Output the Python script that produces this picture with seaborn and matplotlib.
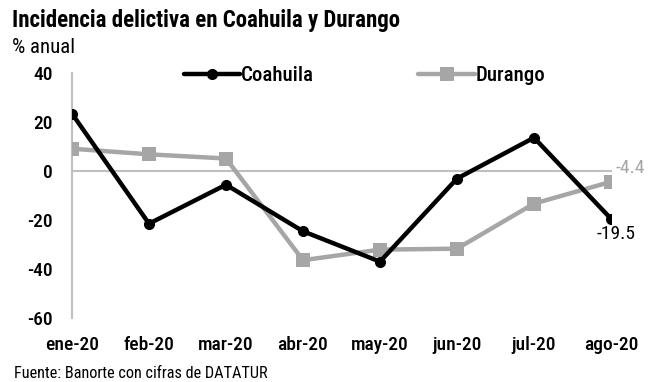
import matplotlib
matplotlib.use("Agg")
import matplotlib.pyplot as plt
from matplotlib import font_manager as fm
import seaborn as sns
import pandas as pd

months = ["ene-20", "feb-20", "mar-20", "abr-20", "may-20", "jun-20", "jul-20", "ago-20"]
coahuila = [23.4, -21.5, -5.6, -24.6, -37.0, -3.1, 13.6, -19.5]
durango = [9.1, 6.8, 5.1, -36.4, -32.1, -31.7, -13.3, -4.4]
y_ticks = [40, 20, 0, -20, -40, -60]

sns.set_theme(style="white")

# condensed sans-serif with a bold weight
installed = {f.name for f in fm.fontManager.ttflist}
narrow = next((n for n in ["Roboto Condensed", "PT Sans Narrow", "Liberation Sans Narrow"]
               if n in installed), None)
if narrow:
    plt.rcParams["font.family"] = [narrow, "DejaVu Sans"]
else:
    plt.rcParams["font.family"] = ["DejaVu Sans"]
    plt.rcParams["font.stretch"] = "condensed"
for key in ["text.color", "axes.labelcolor", "xtick.color", "ytick.color"]:
    plt.rcParams[key] = "black"

TICK_FS = 14
df = pd.DataFrame({
    "pos": list(range(len(months))) * 2,
    "valor": coahuila + durango,
    "estado": ["Coahuila"] * len(months) + ["Durango"] * len(months),
})

fig = plt.figure(figsize=(6.61, 3.82), dpi=100)
ax = fig.add_axes([72 / 661, 1 - 318 / 382, 539 / 661, 245 / 382])

BLACK = "#000000"
GRAY = "#A6A6A6"
AXIS_GRAY = "#BFBFBF"

sns.lineplot(data=df[df.estado == "Coahuila"], x="pos", y="valor", ax=ax,
             color=BLACK, linewidth=3.2, marker="o", markersize=8,
             markeredgewidth=0, label="Coahuila", zorder=4)
sns.lineplot(data=df[df.estado == "Durango"], x="pos", y="valor", ax=ax,
             color=GRAY, linewidth=3.2, marker="s", markersize=9.5,
             markeredgewidth=0, label="Durango", zorder=3)

ax.set_xlim(0, len(months) - 1)
ax.set_ylim(-60, 40)
ax.set_xlabel("")
ax.set_ylabel("")

# zero line with category ticks, gray left axis
for side in ["top", "right"]:
    ax.spines[side].set_visible(False)
ax.spines["bottom"].set_position(("data", 0))
ax.spines["bottom"].set_color(AXIS_GRAY)
ax.spines["bottom"].set_linewidth(1.5)
ax.spines["left"].set_color(AXIS_GRAY)
ax.spines["left"].set_linewidth(1.5)
ax.spines["bottom"].set_zorder(1)

ax.set_xticks(range(len(months)))
ax.tick_params(axis="x", direction="out", length=5, width=1.5, color=AXIS_GRAY,
               labelbottom=False)
ax.set_yticks(y_ticks)
ax.set_yticklabels([str(v) for v in y_ticks], fontsize=TICK_FS, fontweight="medium")
ax.tick_params(axis="y", direction="out", length=4, width=1.5, color=AXIS_GRAY,
               pad=10)

sec = ax.secondary_xaxis(location=0)
sec.set_xticks(range(len(months)))
sec.set_xticklabels(months, fontsize=TICK_FS, fontweight="medium")
sec.tick_params(length=0, pad=13)
sec.spines["bottom"].set_visible(False)

# end-point value labels
ax.annotate(f"{durango[-1]:.1f}", xy=(len(months) - 1, durango[-1]),
            xytext=(3, 10), textcoords="offset points", color=GRAY,
            fontsize=TICK_FS, ha="left", va="center", annotation_clip=False)
ax.annotate(f"{coahuila[-1]:.1f}", xy=(len(months) - 1, coahuila[-1]),
            xytext=(3.6, -11), textcoords="offset points", color=BLACK,
            fontsize=TICK_FS, ha="center", va="center", annotation_clip=False)

leg = ax.legend(loc="center", bbox_to_anchor=(0.543, 0.99), ncol=2,
                frameon=False, handlelength=2.7, handletextpad=0.05,
                columnspacing=5.0, prop={"weight": "medium", "size": 15})

fig.text(12 / 661, 1 - 27 / 382, "Incidencia delictiva en Coahuila y Durango",
         fontsize=16.5, fontweight="semibold", ha="left", va="baseline")
fig.text(12 / 661, 1 - 53 / 382, "% anual", fontsize=15, ha="left",
         va="baseline")
fig.text(14 / 661, 1 - 378 / 382, "Fuente: Banorte con cifras de DATATUR",
         fontsize=11.7, ha="left", va="baseline")

fig.savefig("out.png", dpi=100)
